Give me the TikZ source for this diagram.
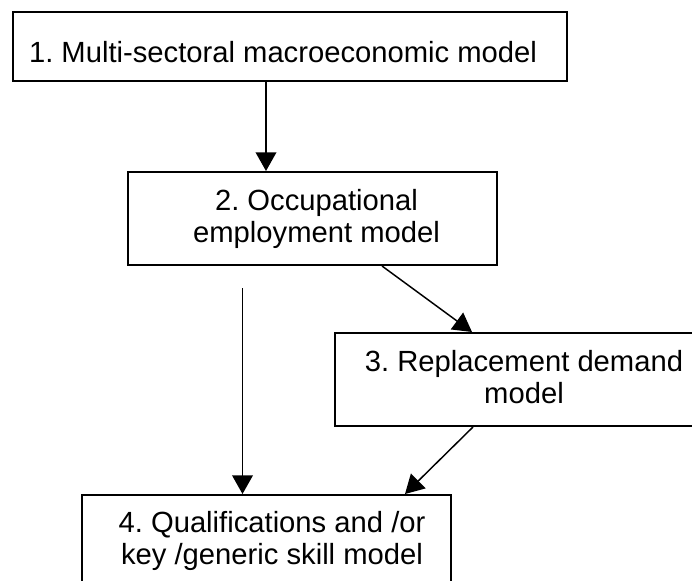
\documentclass[tikz,border=0pt]{standalone}
\usepackage{fontspec}
\setmainfont{Liberation Sans}
\usetikzlibrary{arrows.meta}
\frenchspacing

\tikzset{
  box/.style={draw, line width=1.5pt, inner sep=0pt},
  lbl/.style={inner sep=0pt, align=center, font=\fontsize{21.9pt}{23.6pt}\selectfont},
  arr/.style={-{Triangle[length=14pt,width=15.5pt]}, line width=1.1pt}
}

\begin{document}
\begin{tikzpicture}[x=0.75pt,y=0.75pt,yscale=-1,xscale=1]
\useasboundingbox (0,0) rectangle (692,581);
\clip (0,0) rectangle (692,581);

%Shape: Rectangle [id:m1]
\node [box, minimum width=415.5pt, minimum height=51.75pt] (m1) at (290,46.5) {};
%Shape: Rectangle [id:m2]
\node [box, minimum width=276.75pt, minimum height=69.75pt] (m2) at (312.5,218.5) {};
%Shape: Rectangle [id:m3]
\node [box, minimum width=287.25pt, minimum height=69.75pt] (m3) at (526.5,379.5) {};
%Shape: Rectangle [id:m4]
\node [box, minimum width=276.75pt, minimum height=69.75pt] (m4) at (266.5,541.5) {};

% Text Node
\node [lbl, anchor=base] (t1) at (283,63) {1. Multi-sectoral macroeconomic model};
% Text Node
\node [lbl, anchor=base] (t2) at (316.5,242) {2. Occupational\\employment model};
% Text Node
\node [lbl, anchor=base] (t3) at (524,403) {3. Replacement demand\\model};
% Text Node
\node [lbl, anchor=base] (t4) at (272,564) {4. Qualifications and /or\\key /generic skill model};

%Straight Lines
\coordinate (x1) at (266,0);
\coordinate (x2) at (382,0);
\coordinate (x3) at (472,0);
\coordinate (x4) at (473,0);
\coordinate (x5) at (405,0);
\coordinate (s2) at (242.5,288);

\draw [arr] (m1.south -| x1) -- (m2.north -| x1);
\draw [arr] (s2) -- (s2 |- m4.north);
\draw [arr] (m2.south -| x2) -- (m3.north -| x3);
\draw [arr] (m3.south -| x4) -- (m4.north -| x5);

\end{tikzpicture}
\end{document}
